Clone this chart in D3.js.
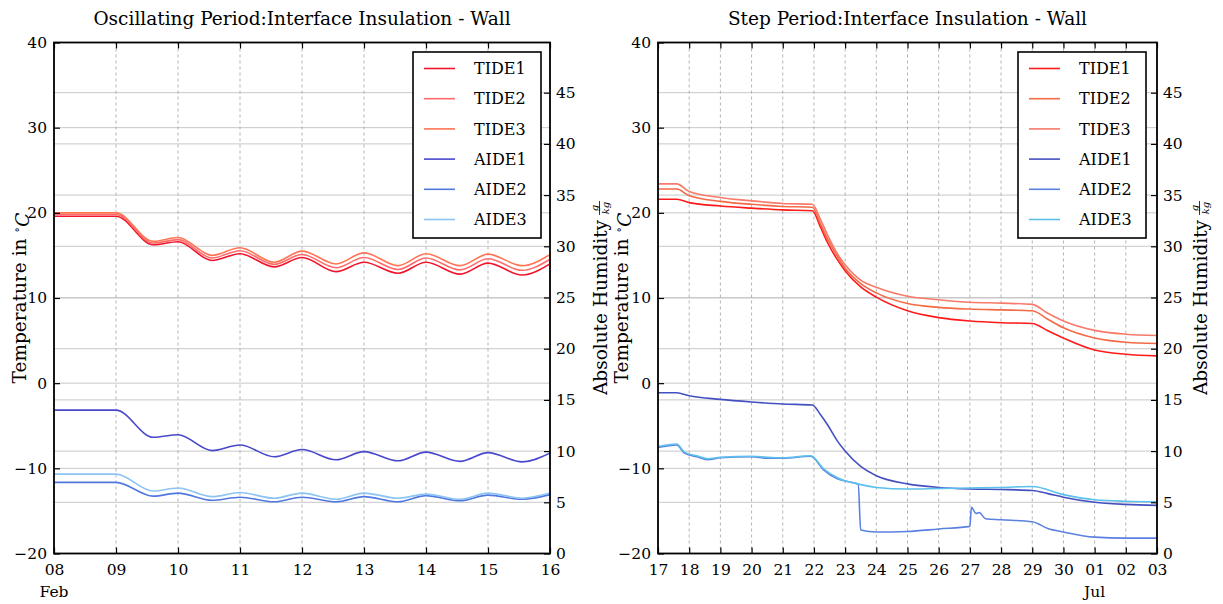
<!DOCTYPE html>
<html><head><meta charset="utf-8">
<script src="https://cdn.jsdelivr.net/npm/d3@7"></script>
<style>
body{margin:0;background:#fff}
svg{display:block}
text{font-family:"DejaVu Serif","Liberation Serif",serif;fill:#000}
</style>
</head><body>
<svg id="c" width="1223" height="604"></svg>
<script>
// ---------------- DATA ----------------
const seriesNames = ["TIDE1","TIDE2","TIDE3","AIDE1","AIDE2","AIDE3"];
const tempTicks = [-20,-10,0,10,20,30,40];
const humTicks = [0,5,10,15,20,25,30,35,40,45];

// Oscillating period (days after 08 Feb)
const oscTitle = "Oscillating Period:Interface Insulation - Wall";
const oscTickLabels = ["08","09","10","11","12","13","14","15","16"];
const oscMonth = {label:"Feb", at:0};
const oscDays  = [0, 1.0, 1.6, 2.0, 2.55, 3.0, 3.55, 4.0, 4.55, 5.0, 5.55, 6.0, 6.55, 7.0, 7.55, 8.0];
const oscTIDE1 = [19.6, 19.6, 16.25, 16.6, 14.4, 15.2, 13.65, 14.75, 13.1, 14.2, 12.9, 14.2, 12.8, 14.1, 12.7, 14.0];
const oscTIDE2 = [19.8, 19.8, 16.45, 16.85, 14.7, 15.55, 13.95, 15.1, 13.55, 14.75, 13.35, 14.7, 13.3, 14.6, 13.25, 14.55];
const oscTIDE3 = [20.0, 20.0, 16.65, 17.1, 15.0, 15.9, 14.2, 15.5, 14.0, 15.3, 13.8, 15.2, 13.8, 15.15, 13.8, 15.1];
const oscAIDE1 = [14.0, 14.0, 11.35, 11.6, 10.05, 10.6, 9.45, 10.15, 9.15, 9.95, 9.05, 9.9, 9.0, 9.85, 8.95, 9.8];
const oscAIDE2 = [6.95, 6.95, 5.6, 5.9, 5.2, 5.5, 5.05, 5.5, 5.05, 5.55, 5.05, 5.65, 5.15, 5.7, 5.3, 5.75];
const oscAIDE3 = [7.75, 7.75, 6.1, 6.4, 5.55, 5.95, 5.4, 5.9, 5.3, 5.9, 5.4, 5.8, 5.3, 5.9, 5.4, 5.9];

// Step period (days after 17 Jun)
const stepTitle = "Step Period:Interface Insulation - Wall";
const stepTickLabels = ["17","18","19","20","21","22","23","24","25","26","27","28","29","30","01","02","03"];
const stepMonth = {label:"Jul", at:14};
const stepDays  = [0, 0.6, 1, 2, 3, 4, 4.95, 5.2, 5.45, 5.75, 6, 6.5, 7, 8, 9, 10, 11, 12, 12.5, 13, 14, 15, 16];
const stepTIDE1 = [21.6, 21.6, 21.2, 20.8, 20.55, 20.35, 20.25, 18.4, 16.4, 14.5, 13.2, 11.3, 10.1, 8.5, 7.7, 7.3, 7.1, 7.0, 6.15, 5.3, 3.9, 3.4, 3.2];
const stepTIDE2 = [22.8, 22.8, 22.0, 21.35, 21.0, 20.75, 20.65, 18.8, 16.85, 14.9, 13.5, 11.7, 10.6, 9.35, 8.9, 8.7, 8.6, 8.5, 7.5, 6.5, 5.3, 4.8, 4.65];
const stepTIDE3 = [23.4, 23.4, 22.5, 21.8, 21.4, 21.1, 21.0, 19.3, 17.3, 15.2, 13.9, 12.1, 11.25, 10.2, 9.8, 9.5, 9.4, 9.25, 8.2, 7.3, 6.2, 5.75, 5.6];
const stepAIDE1 = [15.7, 15.7, 15.4, 15.05, 14.8, 14.6, 14.5, 13.6, 12.5, 11.0, 10.0, 8.5, 7.6, 6.8, 6.45, 6.3, 6.25, 6.15, 5.85, 5.5, 5.0, 4.8, 4.7];
const stepA3Days = [0, 0.6, 0.85, 1.3, 1.6, 2, 3, 3.5, 4, 4.9, 5.3, 5.75, 6.4, 7, 8, 9, 10, 11, 12, 13, 14, 15, 16];
const stepAIDE3  = [10.45, 10.7, 9.9, 9.5, 9.25, 9.4, 9.5, 9.4, 9.35, 9.55, 8.3, 7.4, 6.8, 6.45, 6.3, 6.35, 6.4, 6.45, 6.55, 5.75, 5.25, 5.1, 5.05];
const stepA2Days = [0, 0.6, 0.85, 1.3, 1.6, 2, 3, 3.5, 4, 4.9, 5.3, 5.75, 6.2, 6.42, 6.5, 7, 8, 9, 10.0, 10.05, 10.2, 10.3, 10.5, 11, 12, 12.5, 13, 14, 15, 16];
const stepAIDE2  = [10.35, 10.6, 9.8, 9.4, 9.15, 9.35, 9.45, 9.3, 9.3, 9.5, 8.2, 7.3, 6.95, 6.75, 2.3, 2.1, 2.15, 2.4, 2.65, 4.5, 3.9, 4.0, 3.4, 3.3, 3.1, 2.45, 2.1, 1.6, 1.5, 1.5];

// ---------------- STYLE / LAYOUT ----------------
const oscColors  = ["#f0142c","#ff6a6a","#ff7454","#4848cc","#5078e0","#8cc4f4"];
const stepColors = ["#ff1a1a","#f36a45","#f77a6a","#4450c0","#5a80e0","#5cc0ec"];
const humMax = 49.9;
const FONT = '"DejaVu Serif","Liberation Serif",serif';

const svg = d3.select("#c");

function panel(cfg){
  const {x0,x1,y0,y1} = cfg;
  const g = svg.append("g");
  const x = d3.scaleLinear().domain([0, cfg.tickLabels.length-1]).range([x0,x1]);
  const yT = d3.scaleLinear().domain([-20,40]).range([y1,y0]);
  const yH = d3.scaleLinear().domain([0,humMax]).range([y1,y0]);
  const xt = d3.range(cfg.tickLabels.length);

  // grid
  const grid = g.append("g");
  grid.selectAll(".ht").data(tempTicks).join("line")
    .attr("x1",x0).attr("x2",x1).attr("y1",d=>yT(d)).attr("y2",d=>yT(d))
    .attr("stroke","#c8c8c8").attr("stroke-width",1);
  grid.selectAll(".hh").data(humTicks).join("line")
    .attr("x1",x0).attr("x2",x1).attr("y1",d=>yH(d)).attr("y2",d=>yH(d))
    .attr("stroke","#c8c8c8").attr("stroke-width",1);
  grid.selectAll(".v").data(xt).join("line")
    .attr("x1",d=>x(d)).attr("x2",d=>x(d)).attr("y1",y0).attr("y2",y1)
    .attr("stroke","#a0a0a0").attr("stroke-width",0.8).attr("stroke-dasharray","3,3");

  // lines
  const mk = (ys)=> d3.line().x(d=>x(d[0])).y(d=>ys(d[1])).curve(d3.curveMonotoneX);
  cfg.series.forEach((s,i)=>{
    const pts = s.days.map((d,k)=>[d,s.vals[k]]);
    g.append("path").attr("d", mk(s.hum?yH:yT)(pts))
      .attr("fill","none").attr("stroke",cfg.colors[i]).attr("stroke-width",1.6);
  });

  // axes
  const fmt = i=>cfg.tickLabels[i];
  const styleAx = a=>{ a.select(".domain").remove(); a.selectAll("text").style("font-family",FONT).style("font-size","15.5px"); a.selectAll("line").attr("stroke","#000").attr("stroke-width",1.2); };
  g.append("g").attr("transform",`translate(0,${y1})`)
    .call(d3.axisBottom(x).tickValues(xt).tickFormat(fmt).tickSizeInner(-6).tickSizeOuter(0).tickPadding(10)).call(styleAx);
  g.append("g").attr("transform",`translate(0,${y0})`)
    .call(d3.axisTop(x).tickValues(xt).tickFormat("").tickSizeInner(-6).tickSizeOuter(0)).call(styleAx);
  g.append("g").attr("transform",`translate(${x0},0)`)
    .call(d3.axisLeft(yT).tickValues(tempTicks).tickFormat(d=>d<0?"\u2212"+(-d):d).tickSizeInner(-6).tickSizeOuter(0).tickPadding(7)).call(styleAx);
  g.append("g").attr("transform",`translate(${x1},0)`)
    .call(d3.axisRight(yH).tickValues(humTicks).tickSizeInner(-6).tickSizeOuter(0).tickPadding(6)).call(styleAx);

  // frame
  g.append("rect").attr("x",x0).attr("y",y0).attr("width",x1-x0).attr("height",y1-y0)
    .attr("fill","none").attr("stroke","#000").attr("stroke-width",1.8);

  // month label
  g.append("text").attr("x",x(cfg.month.at)).attr("y",y1+43).attr("text-anchor","middle")
    .style("font-size","15.5px").text(cfg.month.label);

  // title
  g.append("text").attr("x",(x0+x1)/2).attr("y",25).attr("text-anchor","middle")
    .style("font-size","18.5px").text(cfg.title);

  // left label
  const cy = (y0+y1)/2;
  const tl = g.append("text").attr("transform",`translate(${cfg.tLabX},${cy}) rotate(-90)`)
    .attr("text-anchor","middle").attr("dy","0.35em").style("font-size","18.5px");
  tl.append("tspan").text("Temperature in ");
  tl.append("tspan").attr("dy","-0.45em").style("font-size","12px").text("\u2218");
  tl.append("tspan").attr("dy","0.45em").style("font-style","italic").text("C");

  // right label with fraction
  const hg = g.append("g").attr("transform",`translate(${cfg.hLabX},${cy}) rotate(-90)`);
  const ht = hg.append("text").attr("y",6.5).style("font-size","18.5px").text("Absolute Humidity");
  const L = ht.node().getComputedTextLength();
  const fw = 14, W = L + 5 + fw, sx = -W/2;
  ht.attr("x",sx);
  const fx = sx + L + 5;
  hg.append("line").attr("x1",fx).attr("x2",fx+fw).attr("y1",-0.5).attr("y2",-0.5).attr("stroke","#000").attr("stroke-width",0.8);
  hg.append("text").attr("x",fx+fw/2).attr("y",-2.5).attr("text-anchor","middle").style("font-size","10px").style("font-style","italic").text("g");
  hg.append("text").attr("x",fx+fw/2).attr("y",8.5).attr("text-anchor","middle").style("font-size","10px").style("font-style","italic").text("kg");

  // legend
  const lw = 128, lh = 186, lx = x1 - cfg.legR - lw, ly = y0 + 9.5;
  const lg = g.append("g");
  lg.append("rect").attr("x",lx).attr("y",ly).attr("width",lw).attr("height",lh)
    .attr("fill","#fff").attr("stroke","#000").attr("stroke-width",1.6);
  seriesNames.forEach((n,i)=>{
    const yy = ly + 16.5 + i*30.2;
    lg.append("line").attr("x1",lx+11).attr("x2",lx+42).attr("y1",yy).attr("y2",yy)
      .attr("stroke",cfg.colors[i]).attr("stroke-width",1.6);
    lg.append("text").attr("x",lx+61).attr("y",yy).attr("dy","0.36em").style("font-size","16px").text(n);
  });
}

panel({
  x0:54, x1:550, y0:42.5, y1:553.5, title:oscTitle, tickLabels:oscTickLabels, month:oscMonth,
  colors:oscColors, tLabX:20, hLabX:600, legR:9,
  series:[
    {days:oscDays, vals:oscTIDE1},{days:oscDays, vals:oscTIDE2},{days:oscDays, vals:oscTIDE3},
    {days:oscDays, vals:oscAIDE1, hum:true},{days:oscDays, vals:oscAIDE2, hum:true},{days:oscDays, vals:oscAIDE3, hum:true}
  ]
});
panel({
  x0:658, x1:1157, y0:42.5, y1:553.5, title:stepTitle, tickLabels:stepTickLabels, month:stepMonth,
  colors:stepColors, tLabX:622, hLabX:1200, legR:11,
  series:[
    {days:stepDays, vals:stepTIDE1},{days:stepDays, vals:stepTIDE2},{days:stepDays, vals:stepTIDE3},
    {days:stepDays, vals:stepAIDE1, hum:true},{days:stepA2Days, vals:stepAIDE2, hum:true},{days:stepA3Days, vals:stepAIDE3, hum:true}
  ]
});
</script>
</body></html>
